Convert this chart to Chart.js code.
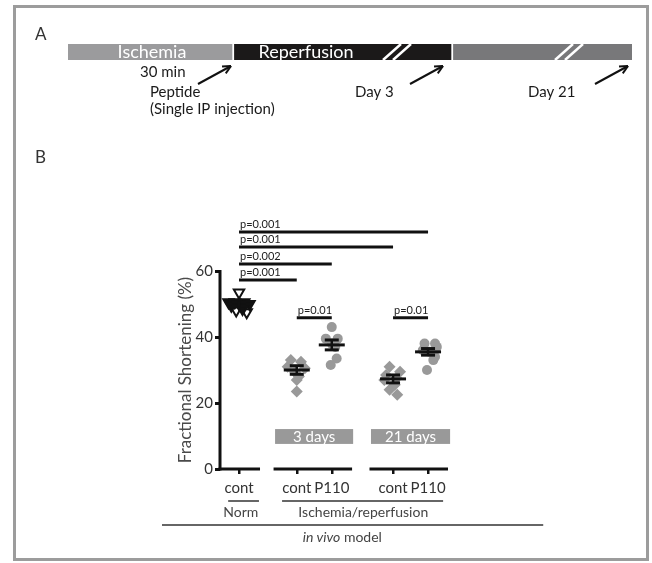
<!DOCTYPE html>
<html>
<head>
<meta charset="utf-8">
<script src="https://cdn.jsdelivr.net/npm/chart.js@4.4.1/dist/chart.umd.min.js"></script>
<style>
html, body { margin: 0; padding: 0; background: #fff; }
#wrap { position: relative; width: 652px; height: 563px; }
#frame { position: absolute; left: 13px; top: 5px; width: 636px; height: 556px; border: 3px solid #9c9c9c; box-sizing: border-box; }
#scatter, #timeline { position: absolute; left: 0; top: 0; }
</style>
</head>
<body>
<div id="wrap">
  <div id="frame"></div>
  <canvas id="scatter" width="652" height="563"></canvas>
  <canvas id="timeline" width="652" height="130"></canvas>
</div>
<script>
// panel A timeline
var phaseNames = ['Ischemia', 'Reperfusion', ''];
var phaseLengths = [166, 219, 179];
var phaseColors = ['#9b9b9d', '#1b1919', '#78787a'];

// panel B groups
var groupX = [1, 2.65, 3.65, 5.4, 6.4];
var groupLabels = ['cont', 'cont', 'P110', 'cont', 'P110'];

var normVals = [53.5, 50.5, 50.5, 50, 50.5, 50, 48, 47.5, 48.5, 49.5];
var normJit = [0, -0.3, -0.12, 0, 0.15, 0.3, -0.08, 0.22, 0.1, -0.22];
var normFilled = [false, true, true, true, true, true, false, false, true, true];
var cont3Vals = [33, 32.5, 31, 30.5, 29.5, 28, 27, 23.5];
var cont3Jit = [-0.17, 0.12, -0.26, 0.23, -0.06, 0.06, 0, 0];
var p3Vals = [43, 39.5, 39.5, 38, 37, 33.5, 31.5];
var p3Jit = [0, -0.17, 0.17, 0, 0.1, 0.14, -0.03];
var cont21Vals = [31, 29.5, 28.5, 27.5, 27, 25.5, 24, 22.5];
var cont21Jit = [-0.1, 0.2, -0.2, 0.1, -0.25, 0.05, -0.1, 0.12];
var p21Vals = [38, 38, 37, 36, 35.5, 34, 33, 30];
var p21Jit = [-0.1, 0.2, 0.25, -0.15, 0.05, 0.2, 0.15, -0.03];

var groupMeans = [50, 30, 37.6, 27.3, 35.5];
var groupSem = [0.7, 1.3, 1.5, 1.2, 1.0];

var sigFrom = [0, 0, 0, 0, 1, 3];
var sigTo = [4, 3, 2, 1, 2, 4];
var sigLevel = [71.8, 67.3, 62.1, 57.3, 45.8, 45.8];
var sigText = ['p=0.001', 'p=0.001', 'p=0.002', 'p=0.001', 'p=0.01', 'p=0.01'];

var dayLabels = ['3 days', '21 days'];

var FONT = 'Lato, "Open Sans", sans-serif';

function pts(vals, jit, gx) {
    var out = [];
    for (var i = 0; i < vals.length; i++) {
        out.push({ x: gx + jit[i], y: vals[i] });
    }
    return out;
}

function line(ctx, x1, y1, x2, y2) {
    ctx.beginPath();
    ctx.moveTo(x1, y1);
    ctx.lineTo(x2, y2);
    ctx.stroke();
}

var decorB = {
    id: 'decorB',
    afterDatasetsDraw: function (chart) {
        var ctx = chart.ctx;
        var xs = chart.scales.x, ys = chart.scales.y;
        var area = chart.chartArea;
        ctx.save();
        ctx.strokeStyle = '#111';
        ctx.lineCap = 'butt';

        // axes
        ctx.lineWidth = 3;
        line(ctx, area.left, ys.getPixelForValue(60) - 1, area.left, ys.getPixelForValue(0) + 1.5);
        var segs = [[0.457, 1.6], [2.03, 4.23], [4.77, 6.97]];
        segs.forEach(function (s) {
            line(ctx, xs.getPixelForValue(s[0]) - 1.5, area.bottom, xs.getPixelForValue(s[1]), area.bottom);
        });

        // mean +/- sem
        for (var i = 0; i < groupX.length; i++) {
            var x = xs.getPixelForValue(groupX[i]);
            var ym = ys.getPixelForValue(groupMeans[i]);
            var yt = ys.getPixelForValue(groupMeans[i] + groupSem[i]);
            var yb = ys.getPixelForValue(groupMeans[i] - groupSem[i]);
            ctx.lineWidth = 3;
            line(ctx, x - 13, ym, x + 13, ym);
            line(ctx, x - 7, yt, x + 7, yt);
            line(ctx, x - 7, yb, x + 7, yb);
            ctx.lineWidth = 2.5;
            line(ctx, x, yt, x, yb);
        }

        // significance bars
        ctx.font = '11px ' + FONT;
        ctx.fillStyle = '#222';
        ctx.textAlign = 'left';
        ctx.textBaseline = 'bottom';
        for (var k = 0; k < sigFrom.length; k++) {
            var x1 = xs.getPixelForValue(groupX[sigFrom[k]]);
            var x2 = xs.getPixelForValue(groupX[sigTo[k]]);
            var y = ys.getPixelForValue(sigLevel[k]);
            ctx.lineWidth = 3;
            line(ctx, x1, y, x2, y);
            ctx.fillText(sigText[k], x1 + 1, y - 2);
        }

        // day boxes
        var boxes = [[2.03, 4.26], [4.77, 7.03]];
        ctx.font = '15px ' + FONT;
        ctx.textAlign = 'center';
        ctx.textBaseline = 'middle';
        for (var b = 0; b < boxes.length; b++) {
            var bx1 = xs.getPixelForValue(boxes[b][0]);
            var bx2 = xs.getPixelForValue(boxes[b][1]);
            var by1 = ys.getPixelForValue(12.1);
            var by2 = ys.getPixelForValue(7.6);
            ctx.fillStyle = '#999';
            ctx.fillRect(bx1, by1, bx2 - bx1, by2 - by1);
            ctx.fillStyle = '#fff';
            ctx.fillText(dayLabels[b], (bx1 + bx2) / 2, (by1 + by2) / 2 + 1);
        }

        // group labels underneath
        var base = area.bottom;
        ctx.strokeStyle = '#333';
        ctx.lineWidth = 1.5;
        line(ctx, xs.getPixelForValue(0.69), base + 32, xs.getPixelForValue(1.57), base + 32);
        line(ctx, xs.getPixelForValue(2.23), base + 32, xs.getPixelForValue(6.83), base + 32);
        line(ctx, xs.getPixelForValue(-1.2), base + 56, xs.getPixelForValue(9.69), base + 56);
        ctx.fillStyle = '#444';
        ctx.font = '14px ' + FONT;
        ctx.fillText('Norm', xs.getPixelForValue(1.05), base + 43);
        ctx.fillText('Ischemia/reperfusion', xs.getPixelForValue(4.55), base + 43);

        var t1 = 'in vivo';
        var t2 = ' model';
        ctx.font = 'italic 14px ' + FONT;
        var w1 = ctx.measureText(t1).width;
        ctx.font = '14px ' + FONT;
        var w2 = ctx.measureText(t2).width;
        var cx = xs.getPixelForValue(3.95);
        var sx = cx - (w1 + w2) / 2;
        ctx.textAlign = 'left';
        ctx.font = 'italic 14px ' + FONT;
        ctx.fillText(t1, sx, base + 68);
        ctx.font = '14px ' + FONT;
        ctx.fillText(t2, sx + w1, base + 68);

        // panel letter
        ctx.fillStyle = '#333';
        ctx.font = '17px ' + FONT;
        ctx.fillText('B', 35, 158);
        ctx.restore();
    }
};

new Chart(document.getElementById('scatter'), {
    type: 'scatter',
    data: {
        datasets: [
            {
                data: pts(normVals, normJit, groupX[0]), pointStyle: 'triangle', rotation: 180, radius: 6, borderWidth: 2, borderColor: '#111',
                backgroundColor: normFilled.map(function (f) { return f ? '#111' : 'rgba(0,0,0,0)'; })
            },
            { data: pts(cont3Vals, cont3Jit, groupX[1]), pointStyle: 'rectRot', radius: 6, borderWidth: 0, backgroundColor: '#999' },
            { data: pts(p3Vals, p3Jit, groupX[2]), pointStyle: 'circle', radius: 5, borderWidth: 0, backgroundColor: '#999' },
            { data: pts(cont21Vals, cont21Jit, groupX[3]), pointStyle: 'rectRot', radius: 6, borderWidth: 0, backgroundColor: '#999' },
            { data: pts(p21Vals, p21Jit, groupX[4]), pointStyle: 'circle', radius: 5, borderWidth: 0, backgroundColor: '#999' }
        ]
    },
    options: {
        responsive: false,
        animation: false,
        clip: false,
        layout: { autoPadding: false, padding: { left: 170, right: 204, top: 271, bottom: 68 } },
        plugins: { legend: { display: false }, tooltip: { enabled: false } },
        scales: {
            x: {
                type: 'linear',
                min: 0.457,
                max: 6.97,
                afterBuildTicks: function (scale) {
                    scale.ticks = groupX.map(function (v) { return { value: v }; });
                },
                afterFit: function (scale) { scale.height = 26; },
                border: { display: false },
                grid: { drawOnChartArea: false, drawTicks: true, tickLength: 5, lineWidth: 2.5, color: '#111' },
                ticks: {
                    autoSkip: false, maxRotation: 0, minRotation: 0, padding: 5,
                    color: '#333', font: { family: FONT, size: 15 },
                    callback: function (value, index) { return groupLabels[index]; }
                }
            },
            y: {
                min: 0,
                max: 60,
                afterFit: function (scale) { scale.width = 50; },
                border: { display: false },
                grid: { drawOnChartArea: false, drawTicks: true, tickLength: 5, lineWidth: 3, color: '#111' },
                ticks: { stepSize: 20, padding: 2, color: '#333', font: { family: FONT, size: 15 } },
                title: { display: true, text: 'Fractional Shortening (%)', color: '#4a4a4a', font: { family: FONT, size: 17 }, padding: { top: 5, bottom: 0 } }
            }
        }
    },
    plugins: [decorB]
});

// ---- panel A ----
var decorA = {
    id: 'decorA',
    afterDatasetsDraw: function (chart) {
        var ctx = chart.ctx;
        var xs = chart.scales.x;
        var area = chart.chartArea;
        var mid = (area.top + area.bottom) / 2;
        ctx.save();
        ctx.fillStyle = '#fff';
        ctx.font = '18px ' + FONT;
        ctx.textAlign = 'center';
        ctx.textBaseline = 'middle';
        ctx.fillText(phaseNames[0], xs.getPixelForValue(84), mid);
        ctx.fillText(phaseNames[1], xs.getPixelForValue(238), mid);

        // break slashes
        ctx.strokeStyle = '#fff';
        ctx.lineWidth = 2.5;
        [315, 487].forEach(function (v) {
            var x0 = xs.getPixelForValue(v);
            line(ctx, x0, area.bottom, x0 + 18, area.top);
            line(ctx, x0 + 10, area.bottom, x0 + 28, area.top);
        });

        // arrows
        ctx.strokeStyle = '#111';
        ctx.lineWidth = 2;
        [163, 375, 560].forEach(function (v) {
            var tx = xs.getPixelForValue(v), ty = area.bottom + 6;
            var fx = tx - 33, fy = ty + 18;
            line(ctx, fx, fy, tx, ty);
            var ang = Math.atan2(ty - fy, tx - fx);
            line(ctx, tx, ty, tx - 9 * Math.cos(ang - 0.45), ty - 9 * Math.sin(ang - 0.45));
            line(ctx, tx, ty, tx - 9 * Math.cos(ang + 0.45), ty - 9 * Math.sin(ang + 0.45));
        });

        ctx.fillStyle = '#1a1a1a';
        ctx.font = '15px ' + FONT;
        ctx.textAlign = 'left';
        ctx.fillText('30 min', 140, 72);
        ctx.fillText('Peptide', 150, 92);
        ctx.fillText('(Single IP injection)', 150, 109);
        ctx.fillText('Day 3', 355, 92);
        ctx.fillText('Day 21', 528, 92);

        ctx.fillStyle = '#333';
        ctx.font = '17px ' + FONT;
        ctx.fillText('A', 35, 35);
        ctx.restore();
    }
};

new Chart(document.getElementById('timeline'), {
    type: 'bar',
    data: {
        labels: ['t'],
        datasets: phaseLengths.map(function (v, i) {
            return {
                data: [v],
                backgroundColor: phaseColors[i],
                borderColor: '#fff',
                borderWidth: i < 2 ? { top: 0, bottom: 0, left: 0, right: 2 } : 0,
                borderSkipped: false,
                barPercentage: 1,
                categoryPercentage: 1
            };
        })
    },
    options: {
        indexAxis: 'y',
        responsive: false,
        animation: false,
        layout: { autoPadding: false, padding: { left: 68, right: 20, top: 44, bottom: 70 } },
        plugins: { legend: { display: false }, tooltip: { enabled: false } },
        scales: {
            x: { stacked: true, min: 0, max: 564, display: false },
            y: { stacked: true, display: false }
        }
    },
    plugins: [decorA]
});
</script>
</body>
</html>
